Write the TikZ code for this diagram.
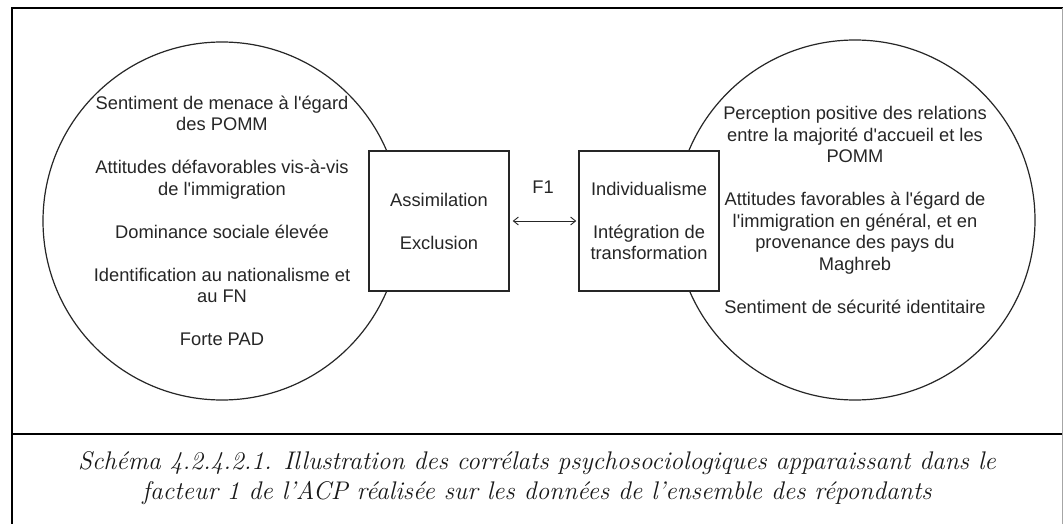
\documentclass[tikz,border=0pt]{standalone}
\usepackage{fontspec}
\newfontfamily\arial{Liberation Sans}
\usetikzlibrary{arrows.meta}
\begin{document}
\begin{tikzpicture}[x=1pt,y=-1pt,
  frame/.style={line width=2.6pt,draw=black},
  ring/.style={circle,draw=black!85,line width=1.2pt,inner sep=0pt},
  box/.style={rectangle,draw=black!85,line width=1.4pt,fill=white,minimum width=140pt,minimum height=140pt,inner sep=0pt},
  body/.style={font=\arial\fontsize{18.3}{21.5}\selectfont,text=black!85,align=center,inner sep=0pt},
  captext/.style={font=\itshape\fontsize{25.5}{30}\selectfont,text=black!90,align=center,inner sep=0pt}]
\useasboundingbox (0,0) rectangle (1063,524);
\fill[white] (0,0) rectangle (1063,524);
% frame
\coordinate (tl) at (12,8);
\coordinate (tr) at (1063,8);
\coordinate (bl) at (12,524);
\coordinate (ml) at (12,434);
\coordinate (mr) at (1063,434);
\draw[frame] (tr) -- (tl) -- (bl);
\draw[frame] (ml) -- (mr);
\draw[black!35,line width=0.8pt] (1062,8) -- (1062,524);
% circles
\node[ring,minimum size=358pt] (L) at (222,221) {};
\node[ring,minimum size=360pt] (R) at (855,220) {};
% boxes
\node[box] (A) at (439,221) {};
\node[box] (B) at (649,221) {};
% texts
\node[body] (Lt) at (222,221) {Sentiment de menace à l'égard\\des POMM\\[21.5pt]Attitudes défavorables vis-à-vis\\de l'immigration\\[21.5pt]Dominance sociale élevée\\[21.5pt]Identification au nationalisme et\\au FN\\[21.5pt]Forte PAD};
\node[body] (Rt) at (855,210) {Perception positive des relations\\entre la majorité d'accueil et les\\POMM\\[21.5pt]Attitudes favorables à l'égard de\\l'immigration en général, et en\\provenance des pays du\\Maghreb\\[21.5pt]Sentiment de sécurité identitaire};
\node[body] (At) at (439,221) {Assimilation\\[21.5pt]Exclusion};
\node[body] (Bt) at (649,221) {Individualisme\\[21.5pt]Intégration de\\transformation};
% arrow
\draw[{Straight Barb[length=5pt,width=8pt]}-{Straight Barb[length=5pt,width=8pt]},line width=0.9pt,black!85,shorten <=3pt,shorten >=2pt] (A) -- (B);
\node[body] (F) at (543,187) {F1};
% caption
\node[captext] (C) at (537,478) {Schéma 4.2.4.2.1. Illustration des corrélats psychosociologiques apparaissant dans le\\facteur 1 de l’ACP réalisée sur les données de l’ensemble des répondants};
\end{tikzpicture}
\end{document}
